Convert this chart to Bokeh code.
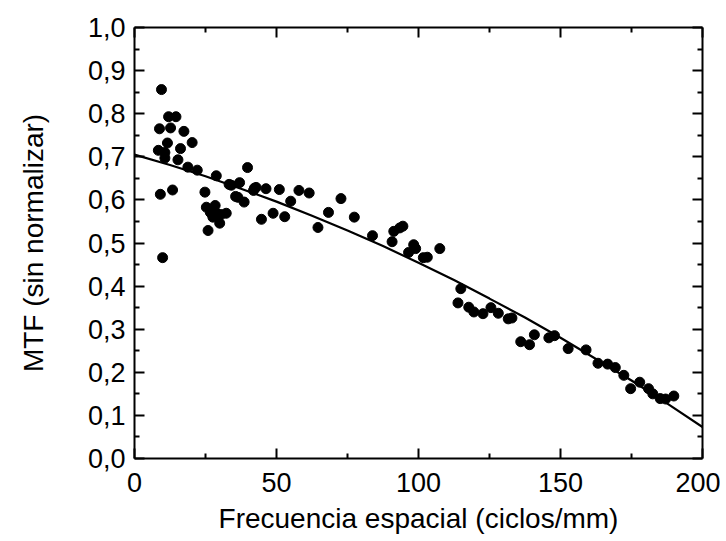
from bokeh.plotting import figure
from bokeh.models import Range1d, LinearAxis, FixedTicker, CustomJSTickFormatter
from bokeh.embed import file_html
from bokeh.resources import INLINE

# measured MTF points
freq = [9.5, 12.0, 14.6, 8.8, 12.7, 17.4, 11.6, 20.3, 16.2, 8.4, 10.7, 10.7, 15.3, 18.8, 22.1,
        28.8, 39.8, 33.3, 37.0, 34.1, 42.2, 35.6, 36.4, 38.6, 9.1, 13.4, 24.8, 25.3, 28.4,
        26.7, 29.0, 30.5, 32.3, 27.6, 30.0, 25.9, 9.9,
        41.9, 42.8, 46.3, 51.0, 57.9, 61.5, 55.0, 44.7, 48.8, 52.9, 64.6, 68.3, 72.7, 77.4,
        83.8, 90.7, 91.3, 93.4, 94.5, 98.3, 99.0, 96.5, 101.7, 103.1, 107.5,
        114.9, 113.9, 117.7, 119.5, 122.7, 125.5, 128.1, 131.6, 132.9, 140.8, 136.0, 139.1,
        145.9, 147.9, 152.7, 159.0, 163.2, 166.6, 169.3, 172.3, 174.7, 177.9, 181.0, 182.5,
        185.1, 187.0, 189.9]
mtf = [0.856, 0.793, 0.793, 0.765, 0.767, 0.759, 0.732, 0.733, 0.719, 0.715, 0.710, 0.697, 0.693, 0.676, 0.669,
       0.656, 0.675, 0.636, 0.640, 0.634, 0.627, 0.608, 0.606, 0.595, 0.613, 0.623, 0.618, 0.583, 0.587,
       0.571, 0.568, 0.566, 0.569, 0.560, 0.546, 0.529, 0.466,
       0.622, 0.629, 0.626, 0.624, 0.622, 0.616, 0.597, 0.555, 0.569, 0.561, 0.536, 0.571, 0.603, 0.560,
       0.517, 0.503, 0.527, 0.535, 0.539, 0.496, 0.487, 0.478, 0.466, 0.467, 0.487,
       0.394, 0.361, 0.351, 0.340, 0.336, 0.350, 0.337, 0.324, 0.326, 0.287, 0.271, 0.264,
       0.280, 0.285, 0.255, 0.252, 0.221, 0.219, 0.211, 0.193, 0.162, 0.177, 0.162, 0.150,
       0.139, 0.138, 0.145]

# fitted curve
fit_x = [0, 12.5, 25, 37.5, 50, 62.5, 75, 87.5, 100, 112.5, 125, 137.5, 150, 162.5, 175, 187.5, 200]
fit_y = [0.705, 0.681, 0.655, 0.626, 0.596, 0.563, 0.529, 0.493, 0.454, 0.414, 0.371, 0.327, 0.280,
         0.231, 0.181, 0.128, 0.073]

x_ticks = [0, 50, 100, 150, 200]
x_minor = [25, 75, 125, 175]
y_ticks = [0.0, 0.1, 0.2, 0.3, 0.4, 0.5, 0.6, 0.7, 0.8, 0.9, 1.0]
y_minor = [0.05, 0.15, 0.25, 0.35, 0.45, 0.55, 0.65, 0.75, 0.85, 0.95]
y_tick_labels = ["0,0", "0,1", "0,2", "0,3", "0,4", "0,5", "0,6", "0,7", "0,8", "0,9", "1,0"]

FONT = "Liberation Sans"

p = figure(width=720, height=541, output_backend="svg", toolbar_location=None,
           x_range=Range1d(0, 200), y_range=Range1d(0, 1))
p.min_border_left = 134
p.min_border_right = 18
p.min_border_top = 27
p.min_border_bottom = 83
p.outline_line_color = None
p.grid.visible = False
p.background_fill_color = "white"
p.border_fill_color = "white"

p.line(fit_x, fit_y, line_color="black", line_width=2.2)
p.scatter(freq, mtf, size=10, fill_color="black", line_color="black")

def style(ax, ticks, minor):
    ax.ticker = FixedTicker(ticks=ticks, minor_ticks=minor)
    ax.axis_line_width = 2
    ax.axis_line_color = "black"
    ax.major_tick_in = 10
    ax.major_tick_out = 0
    ax.minor_tick_in = 5
    ax.minor_tick_out = 0
    ax.major_tick_line_width = 2
    ax.minor_tick_line_width = 2
    ax.major_tick_line_color = "black"
    ax.minor_tick_line_color = "black"
    ax.major_label_text_font = FONT
    ax.major_label_text_font_size = "27px"
    ax.major_label_text_color = "black"
    ax.axis_label_text_font = FONT
    ax.axis_label_text_font_size = "28px"
    ax.axis_label_text_font_style = "normal"
    ax.axis_label_text_color = "black"

xa = p.xaxis[0]
style(xa, x_ticks, x_minor)
xa.axis_label = "Frecuencia espacial (ciclos/mm)"
xa.major_label_standoff = 14
xa.axis_label_standoff = 8

ya = p.yaxis[0]
style(ya, y_ticks, y_minor)
ya.axis_label = "MTF (sin normalizar)"
ya.major_label_overrides = {t: lab for t, lab in zip(y_ticks, y_tick_labels)}
ya.major_label_standoff = 9
ya.axis_label_standoff = 36

blank = CustomJSTickFormatter(code="return ''")
top = LinearAxis(formatter=blank)
style(top, x_ticks, x_minor)
top.major_label_standoff = 0
p.add_layout(top, "above")
right = LinearAxis(formatter=blank)
style(right, y_ticks, y_minor)
right.major_label_standoff = 0
p.add_layout(right, "right")

open("out.html", "w").write(file_html(p, INLINE))
